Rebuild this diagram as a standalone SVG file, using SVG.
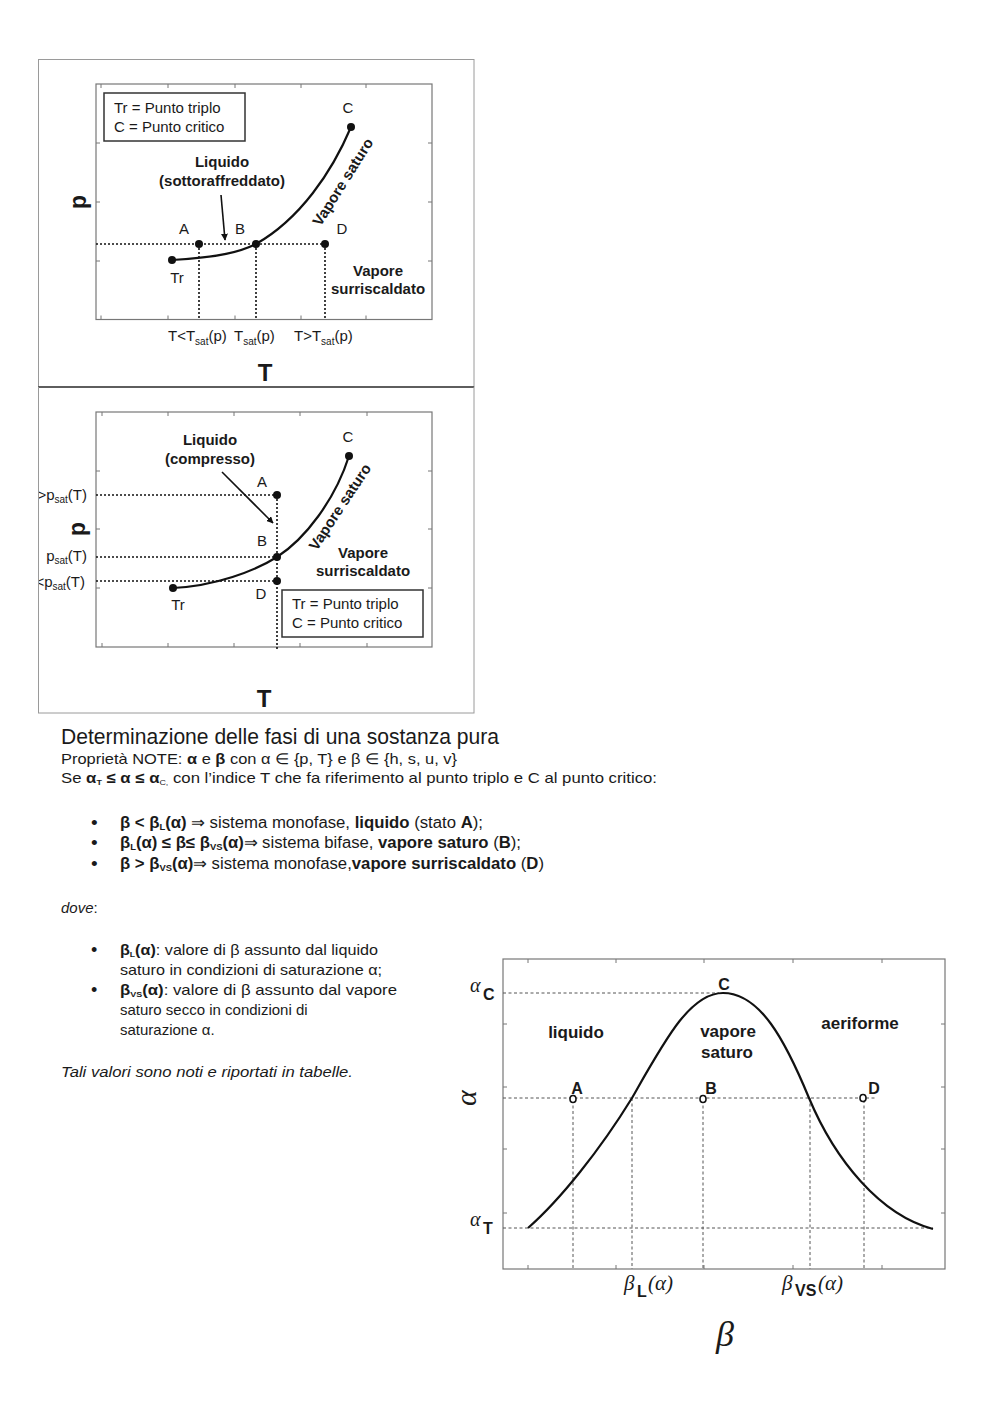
<svg xmlns="http://www.w3.org/2000/svg" width="1000" height="1414" viewBox="0 0 1000 1414">
<defs>
<style>
.s{font-family:"Liberation Sans",Arial,sans-serif;fill:#1a1a1a}
.b{font-weight:bold}
.c{text-anchor:middle}
.frame{fill:none;stroke:#9a9a9a;stroke-width:1}
.ax{fill:none;stroke:#777;stroke-width:1.2}
.tick{stroke:#777;stroke-width:1}
.dot{stroke:#111;stroke-width:1.6;stroke-dasharray:2 2;fill:none}
.dash{stroke:#555;stroke-width:1;stroke-dasharray:3 2.5;fill:none}
.curve{fill:none;stroke:#111;stroke-width:2.2}
.sf{font-family:"Liberation Serif","Times New Roman",serif;font-style:italic;fill:#1a1a1a}
</style>
<marker id="ah" viewBox="0 0 10 10" refX="9" refY="5" markerWidth="7" markerHeight="7" orient="auto" markerUnits="userSpaceOnUse">
<path d="M0,0 L10,5 L0,10 z" fill="#111"/>
</marker>
<clipPath id="clipL"><rect x="39" y="387" width="436" height="327"/></clipPath>
</defs>
<rect width="1000" height="1414" fill="#fff"/>

<!-- ===== TOP PLOT ===== -->
<g id="plot1">
<rect class="frame" x="38.5" y="59.5" width="435.5" height="327"/>
<rect class="ax" x="96" y="84" width="336" height="235.5"/>
<g class="tick">
<path d="M101,84v4M168,84v4M235,84v4M301,84v4M366,84v4M101,319.5v-4M168,319.5v-4M235,319.5v-4M301,319.5v-4M366,319.5v-4M96,143h4M96,202h4M96,261h4M432,143h-4M432,202h-4M432,261h-4"/>
</g>
<rect x="104" y="93" width="141" height="48" fill="none" stroke="#333" stroke-width="1.5"/>
<text class="s" x="114" y="113" font-size="15">Tr = Punto triplo</text>
<text class="s" x="114" y="132" font-size="15">C = Punto critico</text>
<path class="dot" d="M96,244H325M199,244V319M256,244V319M325,244V319"/>
<path class="curve" d="M172,260 C220,257 240,252 256,244 C300,219 332,172 351,127"/>
<g fill="#111">
<circle cx="172" cy="260" r="4"/><circle cx="199" cy="244" r="4"/><circle cx="256" cy="244" r="4"/><circle cx="325" cy="244" r="4"/><circle cx="351" cy="127" r="4"/>
</g>
<text class="s b c" x="222" y="167" font-size="15">Liquido</text>
<text class="s b c" x="222" y="186" font-size="15">(sottoraffreddato)</text>
<line x1="221" y1="195" x2="225" y2="240" stroke="#111" stroke-width="1.6" marker-end="url(#ah)"/>
<text class="s c" x="184" y="234" font-size="15">A</text>
<text class="s c" x="240" y="234" font-size="15">B</text>
<text class="s c" x="342" y="234" font-size="15">D</text>
<text class="s c" x="348" y="113" font-size="15">C</text>
<text class="s c" x="177" y="283" font-size="15">Tr</text>
<text class="s b c" x="343" y="187" font-size="15" transform="rotate(-57.8 343 182)">Vapore saturo</text>
<text class="s b c" x="378" y="276" font-size="15">Vapore</text>
<text class="s b c" x="378" y="294" font-size="15">surriscaldato</text>
<text class="s" x="168" y="341" font-size="15">T&lt;T<tspan font-size="10" dy="4">sat</tspan><tspan dy="-4">(p)</tspan></text>
<text class="s" x="234" y="341" font-size="15">T<tspan font-size="10" dy="4">sat</tspan><tspan dy="-4">(p)</tspan></text>
<text class="s" x="294" y="341" font-size="15">T&gt;T<tspan font-size="10" dy="4">sat</tspan><tspan dy="-4">(p)</tspan></text>
<text class="s b c" x="78" y="210" font-size="23" transform="rotate(-90 78 202)">p</text>
<text class="s b c" x="265" y="381" font-size="24">T</text>
</g>
<line x1="38" y1="387" x2="474" y2="387" stroke="#222" stroke-width="2"/>

<!-- ===== BOTTOM PLOT ===== -->
<g id="plot2">
<rect class="frame" x="38.5" y="387" width="435.5" height="326"/>
<rect class="ax" x="96" y="412" width="336" height="235"/>
<g class="tick">
<path d="M102,412v4M168,412v4M234,412v4M300,412v4M367,412v4M102,647v-4M168,647v-4M234,647v-4M300,647v-4M367,647v-4M96,471h4M96,529h4M96,588h4M432,471h-4M432,529h-4M432,588h-4"/>
</g>
<path class="dot" d="M96,495H277M96,557H277M96,581H277M277,495V649"/>
<path class="curve" d="M173,588 C215,586 255,571 277,557 C305,539 335,500 349,456"/>
<g fill="#111">
<circle cx="173" cy="588" r="4"/><circle cx="277" cy="495" r="4"/><circle cx="277" cy="557" r="4"/><circle cx="277" cy="581" r="4"/><circle cx="349" cy="456" r="4"/>
</g>
<text class="s b c" x="210" y="445" font-size="15">Liquido</text>
<text class="s b c" x="210" y="464" font-size="15">(compresso)</text>
<line x1="222" y1="472" x2="273" y2="523" stroke="#111" stroke-width="1.6" marker-end="url(#ah)"/>
<text class="s c" x="262" y="487" font-size="15">A</text>
<text class="s c" x="262" y="546" font-size="15">B</text>
<text class="s c" x="261" y="599" font-size="15">D</text>
<text class="s c" x="348" y="442" font-size="15">C</text>
<text class="s c" x="178" y="610" font-size="15">Tr</text>
<text class="s b c" x="340" y="512" font-size="15" transform="rotate(-56.6 340 507)">Vapore saturo</text>
<text class="s b c" x="363" y="558" font-size="15">Vapore</text>
<text class="s b c" x="363" y="576" font-size="15">surriscaldato</text>
<rect x="282" y="590" width="141" height="47" fill="none" stroke="#333" stroke-width="1.5"/>
<text class="s" x="292" y="609" font-size="15">Tr = Punto triplo</text>
<text class="s" x="292" y="628" font-size="15">C = Punto critico</text>
<g clip-path="url(#clipL)">
<text class="s" x="87" y="500" font-size="15" text-anchor="end">&gt;p<tspan font-size="10" dy="3">sat</tspan><tspan dy="-3">(T)</tspan></text>
<text class="s" x="87" y="561" font-size="15" text-anchor="end">p<tspan font-size="10" dy="3">sat</tspan><tspan dy="-3">(T)</tspan></text>
<text class="s" x="85" y="587" font-size="15" text-anchor="end">&lt;p<tspan font-size="10" dy="3">sat</tspan><tspan dy="-3">(T)</tspan></text>
</g>
<text class="s b c" x="77" y="537" font-size="23" transform="rotate(-90 77 529)">p</text>
<text class="s b c" x="264" y="707" font-size="24">T</text>
</g>

<!-- ===== TEXT ===== -->
<g id="text-main">
<text class="s" x="61" y="744" font-size="22" fill="#222" textLength="438" lengthAdjust="spacingAndGlyphs">Determinazione delle fasi di una sostanza pura</text>
<text class="s" x="61" y="764" font-size="15" textLength="396" lengthAdjust="spacingAndGlyphs">Proprietà NOTE: <tspan font-weight="bold">α</tspan> e <tspan font-weight="bold">β</tspan> con α ∈ {p, T} e β ∈ {h, s, u, v}</text>
<text class="s" x="61" y="783" font-size="15" textLength="596" lengthAdjust="spacingAndGlyphs">Se <tspan font-weight="bold">α</tspan><tspan font-weight="bold" font-size="8" dy="2">T</tspan><tspan font-weight="bold" dy="-2"> ≤ α ≤ α</tspan><tspan font-size="8" dy="2">C,</tspan><tspan dy="-2"> con l’indice T che fa riferimento al punto triplo e C al punto critico:</tspan></text>
<g font-size="19">
<text class="s" x="91" y="829">•</text>
<text class="s" x="91" y="849">•</text>
<text class="s" x="91" y="870">•</text>
</g>
<text class="s" x="120" y="828" font-size="16" textLength="363" lengthAdjust="spacingAndGlyphs"><tspan font-weight="bold">β &lt; β</tspan><tspan font-weight="bold" font-size="9" dy="2">L</tspan><tspan font-weight="bold" dy="-2">(α)</tspan> ⇒ sistema monofase, <tspan font-weight="bold">liquido</tspan> (stato <tspan font-weight="bold">A</tspan>);</text>
<text class="s" x="120" y="848" font-size="16" textLength="401" lengthAdjust="spacingAndGlyphs"><tspan font-weight="bold">β</tspan><tspan font-weight="bold" font-size="9" dy="2">L</tspan><tspan font-weight="bold" dy="-2">(α) ≤ β≤ β</tspan><tspan font-weight="bold" font-size="9" dy="2">VS</tspan><tspan font-weight="bold" dy="-2">(α)</tspan>⇒ sistema bifase, <tspan font-weight="bold">vapore saturo</tspan> (<tspan font-weight="bold">B</tspan>);</text>
<text class="s" x="120" y="869" font-size="16" textLength="424" lengthAdjust="spacingAndGlyphs"><tspan font-weight="bold">β &gt; β</tspan><tspan font-weight="bold" font-size="9" dy="2">VS</tspan><tspan font-weight="bold" dy="-2">(α)</tspan>⇒ sistema monofase,<tspan font-weight="bold">vapore surriscaldato</tspan> (<tspan font-weight="bold">D</tspan>)</text>
<text class="s" x="61" y="913" font-size="15" font-style="italic">dove<tspan font-style="normal">:</tspan></text>
<g font-size="18">
<text class="s" x="91" y="956">•</text>
<text class="s" x="91" y="996">•</text>
</g>
<text class="s" x="120" y="955" font-size="15" textLength="258" lengthAdjust="spacingAndGlyphs"><tspan font-weight="bold">β</tspan><tspan font-weight="bold" font-size="8" dy="2">L</tspan><tspan font-weight="bold" dy="-2">(α)</tspan>: valore di β assunto dal liquido</text>
<text class="s" x="120" y="975" font-size="15" textLength="262" lengthAdjust="spacingAndGlyphs">saturo in condizioni di saturazione α;</text>
<text class="s" x="120" y="995" font-size="15" textLength="277" lengthAdjust="spacingAndGlyphs"><tspan font-weight="bold">β</tspan><tspan font-weight="bold" font-size="8" dy="2">VS</tspan><tspan font-weight="bold" dy="-2">(α)</tspan>: valore di β assunto dal vapore</text>
<text class="s" x="120" y="1015" font-size="15">saturo secco in condizioni di</text>
<text class="s" x="120" y="1035" font-size="15">saturazione α.</text>
<text class="s" x="61" y="1077" font-size="15" font-style="italic" textLength="292" lengthAdjust="spacingAndGlyphs">Tali valori sono noti e riportati in tabelle.</text>
</g>

<!-- ===== BOTTOM RIGHT PLOT ===== -->
<g id="plot3">
<rect class="ax" x="503" y="959" width="442" height="310" stroke="#666"/>
<g class="tick">
<path d="M528,959v4M616,959v4M704,959v4M793,959v4M882,959v4M528,1269v-4M616,1269v-4M704,1269v-4M793,1269v-4M882,1269v-4M503,1024h4M503,1087h4M503,1149h4M503,1213h4M945,1024h-4M945,1087h-4M945,1149h-4M945,1213h-4"/>
</g>
<path class="dash" d="M503,993H719M503,1228H933M503,1098H877M573,1100V1269M632,1098V1269M703,1100V1269M810,1098V1269M864,1100V1269"/>
<path class="curve" d="M528,1228 C560,1200 600,1150 632,1098 C665,1040 690,993 723,993 C760,993 785,1040 809,1098 C835,1160 880,1215 933,1229"/>
<g fill="#fff" stroke="#111" stroke-width="1.6">
<ellipse cx="573" cy="1099" rx="3" ry="3.5"/>
<ellipse cx="703" cy="1099" rx="3" ry="3.5"/>
<ellipse cx="863" cy="1098" rx="3" ry="3.5"/>
</g>
<text class="s b c" x="577" y="1094" font-size="16">A</text>
<text class="s b c" x="711" y="1094" font-size="16">B</text>
<text class="s b c" x="874" y="1094" font-size="16">D</text>
<text class="s b c" x="724" y="990" font-size="16">C</text>
<text class="s b c" x="576" y="1038" font-size="17">liquido</text>
<text class="s b c" x="728" y="1037" font-size="17">vapore</text>
<text class="s b c" x="727" y="1058" font-size="17">saturo</text>
<text class="s b c" x="860" y="1029" font-size="17">aeriforme</text>
<text class="sf" x="470" y="992" font-size="20">α</text>
<text class="s b" x="483" y="1000" font-size="16">C</text>
<text class="sf" x="470" y="1226" font-size="20">α</text>
<text class="s b" x="483" y="1234" font-size="16">T</text>
<text class="sf c" x="484" y="1106" font-size="30" transform="rotate(-90 476 1106)">α</text>
<text class="sf" x="624" y="1290" font-size="21">β</text>
<text class="s b" x="637" y="1297" font-size="16">L</text>
<text class="sf" x="648" y="1290" font-size="21">(α)</text>
<text class="sf" x="782" y="1290" font-size="21">β</text>
<text class="s b" x="795" y="1296" font-size="16">VS</text>
<text class="sf" x="818" y="1290" font-size="21">(α)</text>
<text class="sf c" x="725" y="1346" font-size="36">β</text>
</g>
</svg>
